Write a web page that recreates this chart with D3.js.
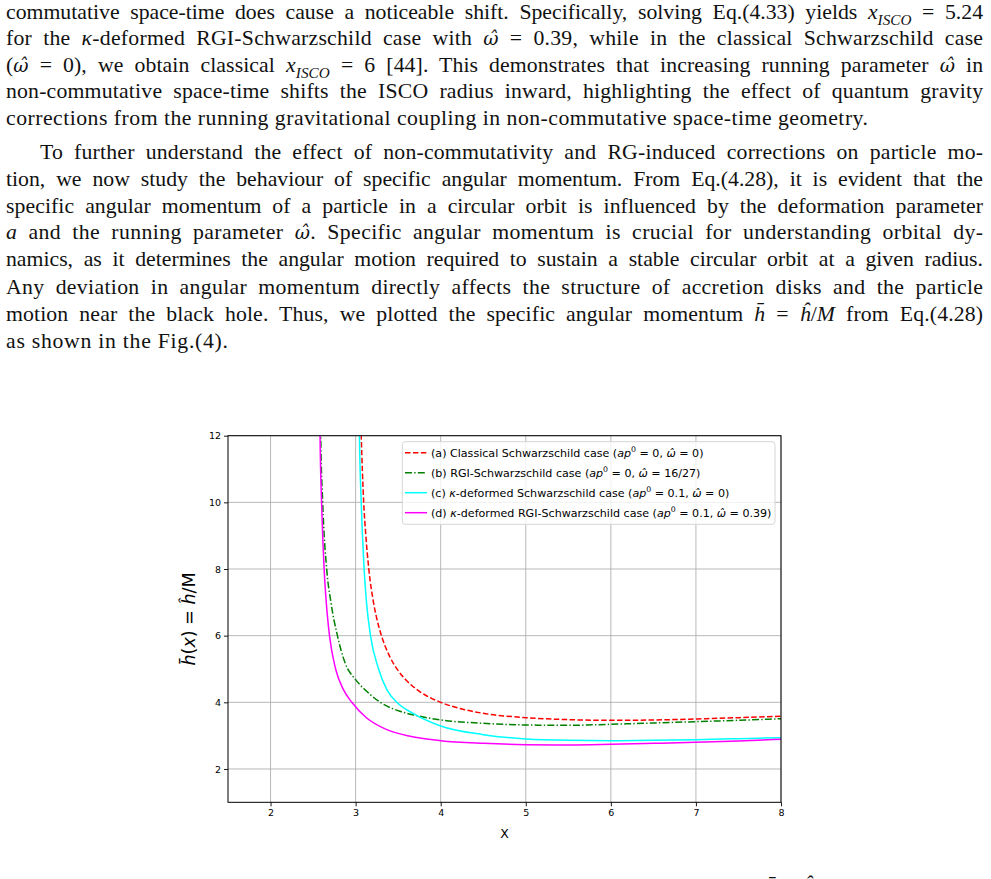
<!DOCTYPE html>
<html>
<head>
<meta charset="utf-8">
<script src="https://cdn.jsdelivr.net/npm/d3@7"></script>
<style>
body { margin: 0; background: #fff; }
.page { font-family: 'Liberation Serif', serif; fill: #111; }
.plot text { font-family: 'DejaVu Sans', sans-serif; fill: #000; }
</style>
</head>
<body>
<svg id="fig"></svg>
<script>
// ---------------------------------------------------------------
// data
// ---------------------------------------------------------------
var xTicks = [2, 3, 4, 5, 6, 7, 8];
var yTicks = [2, 4, 6, 8, 10, 12];

// (a) classical Schwarzschild
var xA = [3.055, 3.066, 3.095, 3.12, 3.155, 3.21, 3.25, 3.3, 3.4, 3.5, 3.6, 3.75, 4.0, 4.25, 4.5, 5.0, 5.5, 6.0, 6.5, 7.0, 7.5, 8.0];
var hA = [13.0, 12.0, 10.0, 9.01, 8.0, 7.0, 6.5, 6.03, 5.38, 4.95, 4.65, 4.33, 4.0, 3.8, 3.67, 3.54, 3.48, 3.46, 3.47, 3.5, 3.54, 3.58];
// (b) RGI-Schwarzschild
var xB = [2.586, 2.59, 2.613, 2.66, 2.71, 2.786, 2.877, 3.0, 3.13, 3.29, 3.52, 3.72, 4.0, 4.5, 5.0, 5.5, 6.0, 6.5, 7.0, 7.5, 8.0];
var hB = [13.0, 12.0, 10.0, 8.0, 7.0, 6.0, 5.18, 4.68, 4.33, 4.0, 3.73, 3.6, 3.47, 3.37, 3.32, 3.31, 3.34, 3.38, 3.42, 3.46, 3.51];
// (c) kappa-deformed Schwarzschild
var xC = [3.04, 3.045, 3.066, 3.1, 3.128, 3.175, 3.27, 3.367, 3.484, 3.68, 4.0, 4.5, 5.0, 5.5, 6.0, 6.5, 7.0, 7.5, 8.0];
var hC = [13.0, 12.0, 10.0, 8.0, 7.0, 6.0, 5.0, 4.38, 4.0, 3.66, 3.29, 3.03, 2.9, 2.86, 2.85, 2.86, 2.88, 2.91, 2.94];
// (d) kappa-deformed RGI-Schwarzschild
var xD = [2.579, 2.582, 2.6, 2.63, 2.655, 2.693, 2.765, 2.857, 2.955, 3.13, 3.367, 3.64, 4.0, 4.5, 5.0, 5.5, 6.0, 6.5, 7.0, 7.5, 8.0];
var hD = [13.0, 12.0, 10.0, 8.0, 7.0, 6.0, 5.0, 4.38, 4.0, 3.53, 3.18, 2.98, 2.85, 2.77, 2.73, 2.72, 2.74, 2.77, 2.8, 2.84, 2.89];

var legendLabels = [
    [['(a) Classical Schwarzschild case (', ''], ['ap', 'i'], ['0', 'sup'], [' = 0, ', ''], ['\u03c9\u0302', 'i'], [' = 0)', '']],
    [['(b) RGI-Schwarzschild case (', ''], ['ap', 'i'], ['0', 'sup'], [' = 0, ', ''], ['\u03c9\u0302', 'i'], [' = 16/27)', '']],
    [['(c) ', ''], ['\u03ba', 'i'], ['-deformed Schwarzschild case (', ''], ['ap', 'i'], ['0', 'sup'], [' = 0.1, ', ''], ['\u03c9\u0302', 'i'], [' = 0)', '']],
    [['(d) ', ''], ['\u03ba', 'i'], ['-deformed RGI-Schwarzschild case (', ''], ['ap', 'i'], ['0', 'sup'], [' = 0.1, ', ''], ['\u03c9\u0302', 'i'], [' = 0.39)', '']]
];

// body text, one entry per printed line ('w' = hatted omega)
var textLines = [
    [['commutative space-time does cause a noticeable shift. Specifically, solving Eq.(4.33) yields ', ''], ['x', 'i'], ['ISCO', 'sub'], [' = 5.24', '']],
    [['for the ', ''], ['\u03ba', 'i'], ['-deformed RGI-Schwarzschild case with ', ''], ['\u03c9\u0302', 'w'], [' = 0.39, while in the classical Schwarzschild case', '']],
    [['(', ''], ['\u03c9\u0302', 'w'], [' = 0), we obtain classical ', ''], ['x', 'i'], ['ISCO', 'sub'], [' = 6 [44]. This demonstrates that increasing running parameter ', ''], ['\u03c9\u0302', 'w'], [' in', '']],
    [['non-commutative space-time shifts the ISCO radius inward, highlighting the effect of quantum gravity', '']],
    [['corrections from the running gravitational coupling in non-commutative space-time geometry.', '']],
    [['To further understand the effect of non-commutativity and RG-induced corrections on particle mo-', '']],
    [['tion, we now study the behaviour of specific angular momentum. From Eq.(4.28), it is evident that the', '']],
    [['specific angular momentum of a particle in a circular orbit is influenced by the deformation parameter', '']],
    [['a', 'i'], [' and the running parameter ', ''], ['\u03c9\u0302', 'w'], ['. Specific angular momentum is crucial for understanding orbital dy-', '']],
    [['namics, as it determines the angular motion required to sustain a stable circular orbit at a given radius.', '']],
    [['Any deviation in angular momentum directly affects the structure of accretion disks and the particle', '']],
    [['motion near the black hole. Thus, we plotted the specific angular momentum ', ''], ['h\u0304', 'i'], [' = ', ''], ['\u0125', 'i'], ['/', ''], ['M', 'i'], [' from Eq.(4.28)', '']],
    [['as shown in the Fig.(4).', '']]
];
var lineBase = [18.5, 45, 71.7, 98.3, 125, 159, 186, 212.7, 239.3, 266, 293.5, 320.5, 348.3];
var lineStart = [6, 6, 6, 6, 6, 40, 6, 6, 6, 6, 6, 6, 6];
var lineEnd = [983, 983, 983, 983, 868, 983, 983, 983, 983, 983, 983, 983, 228];
var lineJustified = [true, true, true, true, false, true, true, true, true, true, true, true, false];

// ---------------------------------------------------------------
// page
// ---------------------------------------------------------------
var W = 991, H = 879;
var svg = d3.select('#fig').attr('width', W).attr('height', H);
svg.append('rect').attr('width', W).attr('height', H).attr('fill', '#fff');

// writes runs of [text, style] as tspans, keeping track of sub/superscript shifts
function addRuns(t, runs, size) {
    var cur = 0;
    runs.forEach(function (r) {
        var s = t.append('tspan').text(r[0]);
        var shift = 0;
        if (r[1] === 'i') s.style('font-style', 'italic');
        if (r[1] === 'w') {
            s.style('font-style', 'italic')
                .style('font-family', "'DejaVu Serif', serif")
                .style('font-size', (size * 0.86) + 'px');
        }
        if (r[1] === 'sub') {
            s.style('font-style', 'italic').style('font-size', (size * 0.7) + 'px');
            shift = size * 0.28;
        }
        if (r[1] === 'sup') {
            s.style('font-size', (size * 0.7) + 'px');
            shift = -size * 0.4;
        }
        if (shift !== cur) s.attr('dy', shift - cur);
        cur = shift;
    });
}

var page = svg.append('g').attr('class', 'page');

// font size from the last line of the first paragraph (natural width), a bit under
// since Liberation Serif runs narrower than the original face
var probe = page.append('text').style('font-size', '20px');
addRuns(probe, textLines[4], 20);
var fontSize = 0.95 * 20 * (lineEnd[4] - lineStart[4]) / probe.node().getComputedTextLength();
probe.remove();

textLines.forEach(function (runs, i) {
    var t = page.append('text')
        .attr('x', lineStart[i])
        .attr('y', lineBase[i])
        .style('font-size', fontSize + 'px');
    addRuns(t, runs, fontSize);
    var target = lineEnd[i] - lineStart[i];
    var natural = t.node().getComputedTextLength();
    if (lineJustified[i]) {
        // spread most of the slack over the spaces, the rest over the letters
        var spaces = runs.map(r => r[0]).join('').split(' ').length - 1;
        var slack = target - natural;
        var ws = Math.min(slack / spaces, 0.25 * fontSize);
        t.style('word-spacing', ws + 'px');
    }
    t.attr('textLength', target).attr('lengthAdjust', 'spacing');
});

// caption line below, only its accents reach into the picture
page.append('text')
    .attr('x', 766).attr('y', 894)
    .style('font-size', fontSize + 'px')
    .style('font-style', 'italic')
    .text('h\u0304 = \u0125/M');

// ---------------------------------------------------------------
// chart
// ---------------------------------------------------------------
var plot = svg.append('g').attr('class', 'plot');
var x = d3.scaleLinear().domain([1.5, 8]).range([228, 781]);
var y = d3.scaleLinear().domain([1, 12]).range([802.3, 435.7]);

plot.append('clipPath').attr('id', 'clip')
    .append('rect')
    .attr('x', x.range()[0]).attr('y', y.range()[1])
    .attr('width', x.range()[1] - x.range()[0])
    .attr('height', y.range()[0] - y.range()[1]);

// grid
plot.selectAll('.gx').data(xTicks).enter().append('line')
    .attr('x1', d => x(d)).attr('x2', d => x(d))
    .attr('y1', y.range()[0]).attr('y2', y.range()[1])
    .attr('stroke', '#b0b0b0').attr('stroke-width', 0.9);
plot.selectAll('.gy').data(yTicks).enter().append('line')
    .attr('y1', d => y(d)).attr('y2', d => y(d))
    .attr('x1', x.range()[0]).attr('x2', x.range()[1])
    .attr('stroke', '#b0b0b0').attr('stroke-width', 0.9);

// curves
var series = [
    { xs: xA, hs: hA, color: 'red', dash: '5.5,2.4' },
    { xs: xB, hs: hB, color: 'green', dash: '7,2.2,1.4,2.2' },
    { xs: xC, hs: hC, color: '#00ffff', dash: null },
    { xs: xD, hs: hD, color: '#ff00ff', dash: null }
];

var line = d3.line()
    .x(d => x(d[0]))
    .y(d => y(d[1]))
    .curve(d3.curveMonotoneX);

var curves = plot.append('g').attr('clip-path', 'url(#clip)');
series.forEach(function (s) {
    curves.append('path')
        .datum(d3.zip(s.xs, s.hs))
        .attr('d', line)
        .attr('fill', 'none')
        .attr('stroke', s.color)
        .attr('stroke-width', 1.5)
        .attr('stroke-dasharray', s.dash);
});

// axes
var xAxis = d3.axisBottom(x).tickValues(xTicks).tickFormat(d3.format('d')).tickSize(4).tickPadding(3);
var yAxis = d3.axisLeft(y).tickValues(yTicks).tickFormat(d3.format('d')).tickSize(4).tickPadding(3);

plot.append('g')
    .attr('transform', 'translate(0,' + y.range()[0] + ')')
    .call(xAxis)
    .call(g => g.select('.domain').remove())
    .selectAll('text').style('font-size', '9.5px');

plot.append('g')
    .attr('transform', 'translate(' + x.range()[0] + ',0)')
    .call(yAxis)
    .call(g => g.select('.domain').remove())
    .selectAll('text').style('font-size', '9.5px');

plot.selectAll('.tick line').attr('stroke', '#000').attr('stroke-width', 0.9);

// spines
plot.append('rect')
    .attr('x', x.range()[0]).attr('y', y.range()[1])
    .attr('width', x.range()[1] - x.range()[0])
    .attr('height', y.range()[0] - y.range()[1])
    .attr('fill', 'none')
    .attr('stroke', '#000')
    .attr('stroke-width', 1);

// axis labels
plot.append('text')
    .attr('x', (x.range()[0] + x.range()[1]) / 2)
    .attr('y', 838.3)
    .attr('text-anchor', 'middle')
    .style('font-size', '12.5px')
    .text('X');

var ylab = plot.append('text')
    .attr('transform', 'translate(195,' + ((y.range()[0] + y.range()[1]) / 2) + ') rotate(-90)')
    .attr('text-anchor', 'middle')
    .style('font-size', '17.5px');
addRuns(ylab, [['h\u0304', 'i'], ['(', ''], ['x', 'i'], [') = ', ''], ['\u0125', 'i'], ['/M', '']], 17.5);

// legend
var legend = plot.append('g');
legend.append('rect')
    .attr('x', 402.3).attr('y', 441.7)
    .attr('width', 372.7).attr('height', 82.6)
    .attr('rx', 3)
    .attr('fill', '#fff').attr('fill-opacity', 0.8)
    .attr('stroke', '#d6d6d6').attr('stroke-width', 1);

series.forEach(function (s, i) {
    var cy = 452.7 + i * 20;
    legend.append('line')
        .attr('x1', 405).attr('x2', 427)
        .attr('y1', cy).attr('y2', cy)
        .attr('stroke', s.color)
        .attr('stroke-width', 1.5)
        .attr('stroke-dasharray', s.dash);
    var t = legend.append('text')
        .attr('x', 431)
        .attr('y', cy + 3.9)
        .style('font-size', '11.1px');
    addRuns(t, legendLabels[i], 11.1);
});
</script>
</body>
</html>
